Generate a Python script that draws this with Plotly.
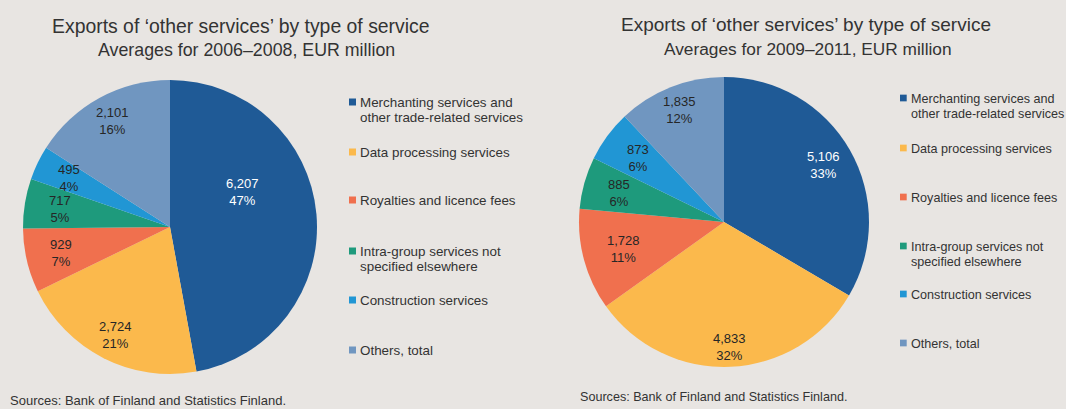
import math
import plotly.graph_objects as go

categories = [
    "Merchanting services and<br>other trade-related services",
    "Data processing services",
    "Royalties and licence fees",
    "Intra-group services not<br>specified elsewhere",
    "Construction services",
    "Others, total",
]
values_2006_2008 = [6207, 2724, 929, 717, 495, 2101]
values_2009_2011 = [5106, 4833, 1728, 885, 873, 1835]
colors = ["#1f5a96", "#fbb94c", "#f0704e", "#1e9a7c", "#2196d4", "#7096c0"]
text_colors = ["#ffffff", "#262626", "#262626", "#262626", "#262626", "#262626"]

BG = "#e8e5e2"
TXT = "#333333"
FONT = "Liberation Sans, Arial, sans-serif"
W, H = 1066, 409


def px(x):
    return x / W


def py(y):
    return 1 - y / H


# ---- layout of the two panels (pixels) ----
panels = [
    dict(values=values_2006_2008, cx=170, cy=227, r=147,
         label_r=[0.55, 0.82, 0.76, 0.76, 0.76, 0.82],
         label_angle={0: 64},
         title_x=240.5, title_y=26, title_size=19.4,
         sub="Averages for 2006–2008, EUR million", sub_x=246, sub_y=50, sub_size=17.8,
         src_x=8, src_y=400.5, src_size=13,
         leg_sq_x=349, leg_txt_x=358, leg_size=13.4, leg_sq=7,
         leg_y=[102.5, 152.5, 200.5, 251.5, 300.5, 350.5], leg_dy=14.8),
    dict(values=values_2009_2011, cx=724, cy=222, r=145,
         label_r=[0.79, 0.86, 0.72, 0.75, 0.74, 0.83],
         label_angle={},
         title_x=805.7, title_y=24.6, title_size=19.0,
         sub="Averages for 2009–2011, EUR million", sub_x=807.7, sub_y=48.6, sub_size=17.3,
         src_x=578, src_y=396.8, src_size=12.6,
         leg_sq_x=900, leg_txt_x=909, leg_size=12.6, leg_sq=6.7,
         leg_y=[98.5, 148.5, 197.5, 246.5, 294.5, 343.5], leg_dy=15.3),
]

fig = go.Figure()
annotations = []
shapes = []

for p in panels:
    vals = p["values"]
    cx, cy, r = p["cx"], p["cy"], p["r"]
    fig.add_trace(go.Pie(
        labels=[c.replace("<br>", " ") for c in categories], values=vals,
        marker=dict(colors=colors, line=dict(width=0)),
        sort=False, direction="clockwise", rotation=0,
        textinfo="none", hoverinfo="label+value+percent",
        showlegend=False,
        domain=dict(x=[px(cx - r), px(cx + r)], y=[py(cy + r), py(cy - r)]),
    ))

    # data labels: value and share, placed on each slice
    total = sum(vals)
    cum = 0
    for i, v in enumerate(vals):
        mid = (cum + v / 2) / total * 360
        cum += v
        ang = math.radians(p["label_angle"].get(i, mid))
        rr = p["label_r"][i] * r
        lx = cx + rr * math.sin(ang)
        ly = cy - rr * math.cos(ang)
        pct = int(v / total * 100 + 0.5)
        annotations.append(dict(
            text=f"{v:,}<br>{pct}%", x=px(lx), y=py(ly), xref="paper", yref="paper",
            showarrow=False, xanchor="center", yanchor="middle",
            font=dict(size=13, color=text_colors[i], family=FONT)))

    # titles
    annotations.append(dict(
        text="Exports of ‘other services’ by type of service", x=px(p["title_x"]), y=py(p["title_y"]),
        xref="paper", yref="paper", showarrow=False, xanchor="center", yanchor="middle",
        font=dict(size=p["title_size"], color=TXT, family=FONT)))
    annotations.append(dict(
        text=p["sub"], x=px(p["sub_x"]), y=py(p["sub_y"]),
        xref="paper", yref="paper", showarrow=False, xanchor="center", yanchor="middle",
        font=dict(size=p["sub_size"], color=TXT, family=FONT)))
    annotations.append(dict(
        text="Sources: Bank of Finland and Statistics Finland.", x=px(p["src_x"]), y=py(p["src_y"]),
        xref="paper", yref="paper", showarrow=False, xanchor="left", yanchor="middle",
        font=dict(size=p["src_size"], color=TXT, family=FONT)))

    # legend
    s = p["leg_sq"]
    for i, cat in enumerate(categories):
        y0 = p["leg_y"][i]
        shapes.append(dict(
            type="rect", xref="paper", yref="paper",
            x0=px(p["leg_sq_x"]), x1=px(p["leg_sq_x"] + s),
            y0=py(y0 - 0.5 - s / 2), y1=py(y0 - 0.5 + s / 2),
            fillcolor=colors[i], line=dict(width=0)))
        for j, line in enumerate(cat.split("<br>")):
            annotations.append(dict(
                text=line, x=px(p["leg_txt_x"]), y=py(y0 + j * p["leg_dy"]),
                xref="paper", yref="paper", showarrow=False, xanchor="left", yanchor="middle",
                font=dict(size=p["leg_size"], color=TXT, family=FONT)))

fig.update_layout(
    width=W, height=H,
    margin=dict(l=0, r=0, t=0, b=0),
    paper_bgcolor=BG, plot_bgcolor=BG,
    font=dict(family=FONT, color=TXT),
    showlegend=False,
    annotations=annotations,
    shapes=shapes,
)

fig.write_html("out.html", config={"displayModeBar": False})

# remove the browser's default page margin so the figure fills the window
with open("out.html", encoding="utf-8") as f:
    html = f.read()
html = html.replace("<body>", '<body style="margin:0;padding:0;overflow:hidden">', 1)
with open("out.html", "w", encoding="utf-8") as f:
    f.write(html)
